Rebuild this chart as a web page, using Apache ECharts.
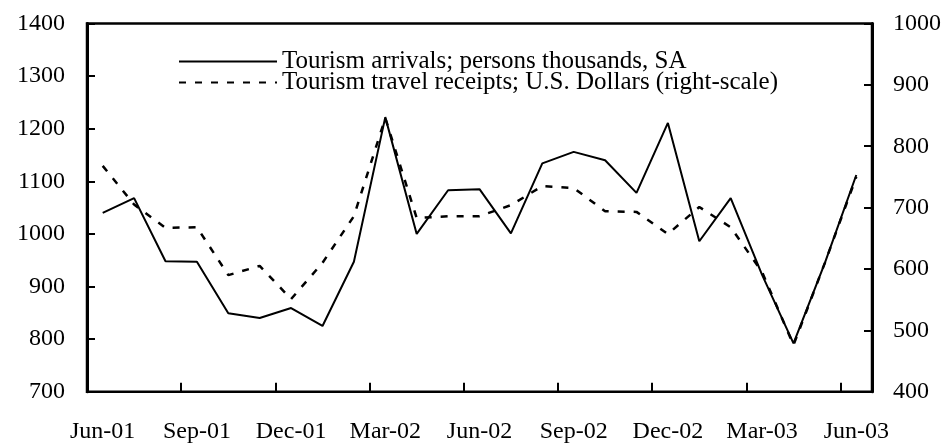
<!DOCTYPE html>
<html>
<head>
<meta charset="utf-8">
<script src="https://cdn.jsdelivr.net/npm/echarts@6/dist/echarts.min.js"></script>
<style>
  html, body { margin: 0; padding: 0; background: #fff; }
  #chart { width: 944px; height: 444px; }
</style>
</head>
<body>
<div id="chart"></div>
<script>
// monthly, Jun-01 .. Jun-03
const months = [
  'Jun-01', 'Jul-01', 'Aug-01', 'Sep-01', 'Oct-01', 'Nov-01', 'Dec-01',
  'Jan-02', 'Feb-02', 'Mar-02', 'Apr-02', 'May-02', 'Jun-02', 'Jul-02',
  'Aug-02', 'Sep-02', 'Oct-02', 'Nov-02', 'Dec-02', 'Jan-03', 'Feb-03',
  'Mar-03', 'Apr-03', 'May-03', 'Jun-03'
];
// persons thousands, SA (left scale)
const arrivals = [
  1040, 1068, 948, 947, 849, 840, 859, 825, 947, 1222, 1000, 1083, 1085,
  1001, 1134, 1156, 1140, 1078, 1211, 986, 1068, 922, 792, 945, 1112
];
// U.S. Dollars (right scale)
const receipts = [
  768, 705, 667, 668, 590, 605, 551, 610, 686, 846, 683, 686, 686,
  704, 735, 732, 694, 693, 657, 701, 668, 595, 476, 610, 750
];
const leftTicks = { min: 700, max: 1400, interval: 100 };
const rightTicks = { min: 400, max: 1000, interval: 100 };

const serif = '"Liberation Serif", "DejaVu Serif", serif';
const chart = echarts.init(document.getElementById('chart'), null, { renderer: 'canvas' });

const tickStyle = {
  show: true,
  inside: true,
  length: 8,
  lineStyle: { color: '#000', width: 2 }
};
const plain = v => String(v);

chart.setOption({
  animation: false,
  backgroundColor: '#fff',
  grid: {
    left: 87,
    right: 72,
    top: 23.5,
    bottom: 52.3,
    show: true,
    borderColor: '#000',
    borderWidth: 2.5
  },
  legend: {
    orient: 'vertical',
    left: 173,
    top: 44,
    itemWidth: 98,
    itemHeight: 14,
    itemGap: -4,
    itemStyle: { color: 'transparent', borderColor: 'transparent', borderWidth: 0 },
    textStyle: { fontFamily: serif, fontSize: 25, color: '#000', lineHeight: 22 },
    data: [
      'Tourism arrivals; persons thousands, SA',
      'Tourism travel receipts; U.S. Dollars (right-scale)'
    ]
  },
  xAxis: {
    type: 'category',
    boundaryGap: true,
    data: months,
    axisLine: { lineStyle: { color: '#000', width: 1.5 } },
    axisTick: Object.assign({}, tickStyle, { interval: 2, length: 9 }),
    axisLabel: {
      interval: 2,
      margin: 28,
      fontFamily: serif,
      fontSize: 24,
      color: '#000'
    },
    splitLine: { show: false }
  },
  yAxis: [
    {
      type: 'value',
      position: 'left',
      min: leftTicks.min,
      max: leftTicks.max,
      interval: leftTicks.interval,
      axisLine: { show: true, lineStyle: { color: '#000', width: 3 } },
      axisTick: tickStyle,
      axisLabel: { margin: 22, fontFamily: serif, fontSize: 24, color: '#000', formatter: plain },
      splitLine: { show: false }
    },
    {
      type: 'value',
      position: 'right',
      min: rightTicks.min,
      max: rightTicks.max,
      interval: rightTicks.interval,
      axisLine: { show: true, lineStyle: { color: '#000', width: 3 } },
      axisTick: tickStyle,
      axisLabel: { margin: 21, fontFamily: serif, fontSize: 24, color: '#000', formatter: plain },
      splitLine: { show: false }
    }
  ],
  series: [
    {
      name: 'Tourism arrivals; persons thousands, SA',
      type: 'line',
      yAxisIndex: 0,
      symbol: 'none',
      data: arrivals,
      itemStyle: { color: '#000' },
      lineStyle: { color: '#000', width: 2 }
    },
    {
      name: 'Tourism travel receipts; U.S. Dollars (right-scale)',
      type: 'line',
      yAxisIndex: 1,
      symbol: 'none',
      data: receipts,
      itemStyle: { color: '#000' },
      lineStyle: { color: '#000', width: 2.5, type: [7, 9] }
    }
  ]
});
</script>
</body>
</html>
